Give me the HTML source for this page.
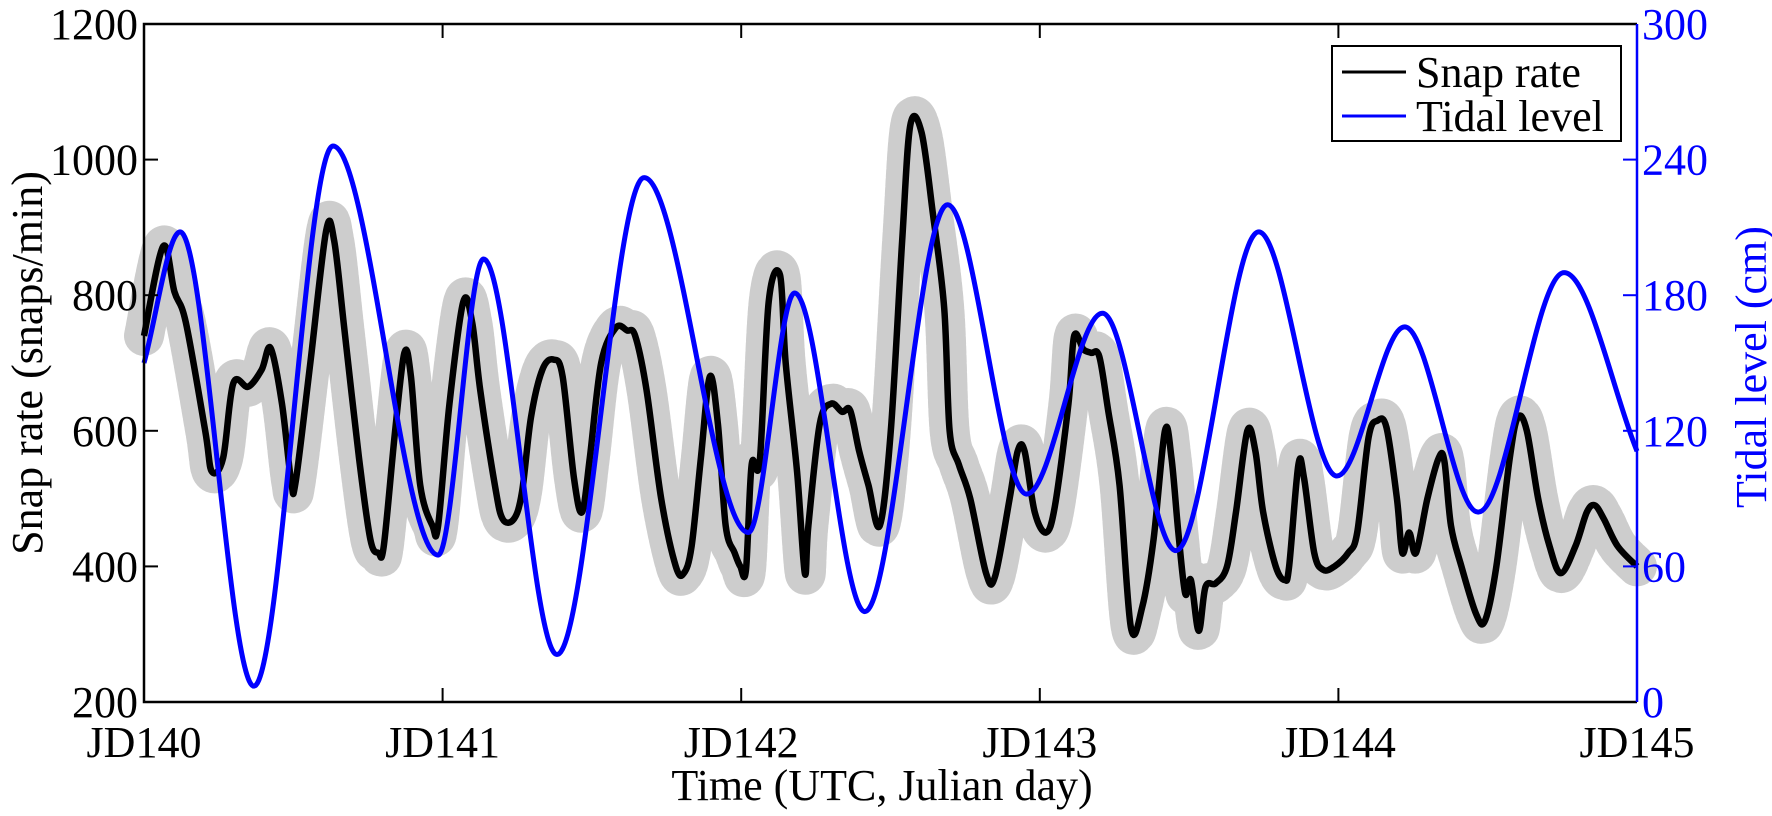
<!DOCTYPE html>
<html><head><meta charset="utf-8"><style>
html,body{margin:0;padding:0;background:#fff;}
svg{display:block;}
text{font-family:"Liberation Serif","Times New Roman",serif;}
</style></head><body>
<svg id="chart" width="1772" height="816" viewBox="0 0 1772 816" font-family="Liberation Serif, serif">
<g id="scatter"></g>
<g id="lines"></g>
<g id="axes"></g>
</svg>
<script>
const snapTimes=[0,.064,.102,.140,.205,.227,.265,.299,.349,.394,.424,.462,.493,.508,.557,.610,.637,.671,.720,.758,.785,.803,.841,.872,.894,.925,.966,.985,1.023,1.069,1.099,1.126,1.175,1.201,1.239,1.266,1.296,1.334,1.372,1.402,1.440,1.467,1.493,1.531,1.580,1.618,1.645,1.683,1.732,1.781,1.808,1.834,1.865,1.895,1.922,1.948,1.978,1.997,2.016,2.035,2.062,2.092,2.130,2.149,2.187,2.213,2.225,2.263,2.301,2.338,2.365,2.395,2.426,2.464,2.501,2.539,2.566,2.604,2.642,2.680,2.698,2.729,2.767,2.820,2.850,2.899,2.926,2.949,2.983,3.021,3.051,3.096,3.115,3.146,3.172,3.199,3.229,3.267,3.305,3.343,3.381,3.419,3.441,3.464,3.487,3.506,3.532,3.555,3.589,3.627,3.657,3.695,3.722,3.748,3.790,3.820,3.835,3.866,3.885,3.919,3.949,3.987,4.033,4.063,4.101,4.131,4.161,4.196,4.214,4.237,4.260,4.298,4.336,4.355,4.377,4.412,4.461,4.491,4.529,4.574,4.601,4.631,4.669,4.707,4.745,4.794,4.832,4.859,4.889,4.935,5.0];
const snapRates=[740,872,805,760,600,540,560,670,665,690,722,640,525,525,700,895,880,750,560,440,420,430,600,715,680,520,460,460,640,790,760,660,520,470,470,510,620,690,705,680,530,480,560,700,752,748,740,660,500,400,390,430,560,680,610,460,420,400,395,550,555,790,830,700,540,390,460,610,640,628,630,570,520,460,600,880,1050,1040,920,780,600,550,500,390,385,500,570,570,480,450,490,640,740,720,715,710,630,520,310,340,440,600,560,450,360,380,305,370,375,400,480,600,570,480,400,380,400,550,530,420,395,400,420,450,590,615,605,500,420,450,420,500,560,555,460,400,330,320,400,560,620,600,500,430,390,430,480,490,470,430,400];
const tideTimes=[0,.121,.368,.633,.985,1.137,1.383,1.675,2.024,2.179,2.414,2.691,2.956,3.210,3.456,3.733,3.995,4.222,4.468,4.756,5.0];
const tideLevels=[150,208,7,246,65,196,21,232,75,181,40,220,92,172,67,208,100,166,84,190,111];
const xTickLabels=["JD140","JD141","JD142","JD143","JD144","JD145"];
const yLeftTicks=[200,400,600,800,1000,1200];
const yRightTicks=[0,60,120,180,240,300];

const NS="http://www.w3.org/2000/svg";
const FONT="Liberation Serif, serif";
const L=144,R=1637,T=24,B=702;
const xs=d=>L+d/5*(R-L);
const yl=v=>B-(v-200)/1000*(B-T);
const yr=v=>B-v/300*(B-T);
function mk(tag,attrs,parent){const e=document.createElementNS(NS,tag);for(const k in attrs)e.setAttribute(k,attrs[k]);if(tag==='text')e.setAttribute('font-family',FONT);parent.appendChild(e);return e;}

function catmull(pts){let d=`M${pts[0][0]},${pts[0][1]}`;for(let i=0;i<pts.length-1;i++){const p0=pts[Math.max(i-1,0)],p1=pts[i],p2=pts[i+1],p3=pts[Math.min(i+2,pts.length-1)];const c1x=p1[0]+(p2[0]-p0[0])/6,c1y=p1[1]+(p2[1]-p0[1])/6,c2x=p2[0]-(p3[0]-p1[0])/6,c2y=p2[1]-(p3[1]-p1[1])/6;d+=` C${c1x},${c1y} ${c2x},${c2y} ${p2[0]},${p2[1]}`;}return d;}
function monotone(pts){const n=pts.length,dx=[],m=[],t=[];for(let i=0;i<n-1;i++){dx.push(pts[i+1][0]-pts[i][0]);m.push((pts[i+1][1]-pts[i][1])/dx[i]);}
t[0]=m[0];t[n-1]=m[n-2];for(let i=1;i<n-1;i++){t[i]=(m[i-1]*m[i]<=0)?0:(m[i-1]+m[i])/2;}
let d=`M${pts[0][0]},${pts[0][1]}`;for(let i=0;i<n-1;i++){const h=dx[i]/3;d+=` C${pts[i][0]+h},${pts[i][1]+t[i]*h} ${pts[i+1][0]-h},${pts[i+1][1]-t[i+1]*h} ${pts[i+1][0]},${pts[i+1][1]}`;}return d;}

const snapPts=snapTimes.map((t,i)=>[xs(t),yl(snapRates[i])]);
const tidePts=tideTimes.map((t,i)=>[xs(t),yr(tideLevels[i])]);
const sc=document.getElementById('scatter');
const band=mk('path',{d:catmull(snapPts),fill:'none',stroke:'#cdcdcd','stroke-width':40,'stroke-linejoin':'round','stroke-linecap':'round','stroke-dasharray':'6 3'},sc);


const lg=document.getElementById('lines');
const sl=mk('path',{d:catmull(snapPts),fill:'none',stroke:'#000','stroke-width':6.5,'stroke-linejoin':'round'},lg);


const tl=mk('path',{d:monotone(tidePts),fill:'none',stroke:'#0000ff','stroke-width':5,'stroke-linejoin':'round'},lg);



const ax=document.getElementById('axes');
const frame=mk('path',{d:`M${R},${T} L${L},${T} L${L},${B} L${R},${B}`,fill:'none',stroke:'#000','stroke-width':2.5},ax);


const raxis=mk('line',{x1:R,y1:T,x2:R,y2:B,stroke:'#0000ff','stroke-width':2.5},ax);


xTickLabels.forEach((lab,i)=>{const x=xs(i);
 if(i>0&&i<5){mk('line',{x1:x,y1:B,x2:x,y2:B-14,stroke:'#000','stroke-width':2},ax);mk('line',{x1:x,y1:T,x2:x,y2:T+14,stroke:'#000','stroke-width':2},ax);}
 const t=mk('text',{x:x,y:757,'font-size':44,'text-anchor':'middle',fill:'#000'},ax);t.textContent=lab;
 
 });
yLeftTicks.forEach(v=>{const y=yl(v);
 if(v>200&&v<1200)mk('line',{x1:L,y1:y,x2:L+14,y2:y,stroke:'#000','stroke-width':2},ax);
 const t=mk('text',{x:138,y:y+15,'font-size':44,'text-anchor':'end',fill:'#000'},ax);t.textContent=v;
 
 });
yRightTicks.forEach(v=>{const y=yr(v);
 if(v>0&&v<300)mk('line',{x1:R,y1:y,x2:R-14,y2:y,stroke:'#0000ff','stroke-width':2},ax);
 const t=mk('text',{x:1642,y:y+15,'font-size':44,'text-anchor':'start',fill:'#0000ff'},ax);t.textContent=v;
 
 });
const xt=mk('text',{x:882,y:800,'font-size':44,'text-anchor':'middle',fill:'#000'},ax);xt.textContent='Time (UTC, Julian day)';


const yt=mk('text',{x:0,y:0,'font-size':44,'text-anchor':'middle',fill:'#000',transform:'translate(42,363) rotate(-90)'},ax);yt.textContent='Snap rate (snaps/min)';


const rt=mk('text',{x:0,y:0,'font-size':44,'text-anchor':'middle',fill:'#0000ff',transform:'translate(1766,367) rotate(-90)'},ax);rt.textContent='Tidal level (cm)';


const leg=mk('g',{},ax);


mk('rect',{x:1332,y:46,width:289,height:95,fill:'#fff',stroke:'#000','stroke-width':2},leg);
mk('line',{x1:1342,y1:72,x2:1406,y2:72,stroke:'#000','stroke-width':3},leg);
mk('line',{x1:1342,y1:116,x2:1406,y2:116,stroke:'#0000ff','stroke-width':3},leg);
const l1=mk('text',{x:1416,y:87,'font-size':44,fill:'#000'},leg);l1.textContent='Snap rate';


const l2=mk('text',{x:1416,y:131,'font-size':44,fill:'#000'},leg);l2.textContent='Tidal level';


</script>
</body></html>
